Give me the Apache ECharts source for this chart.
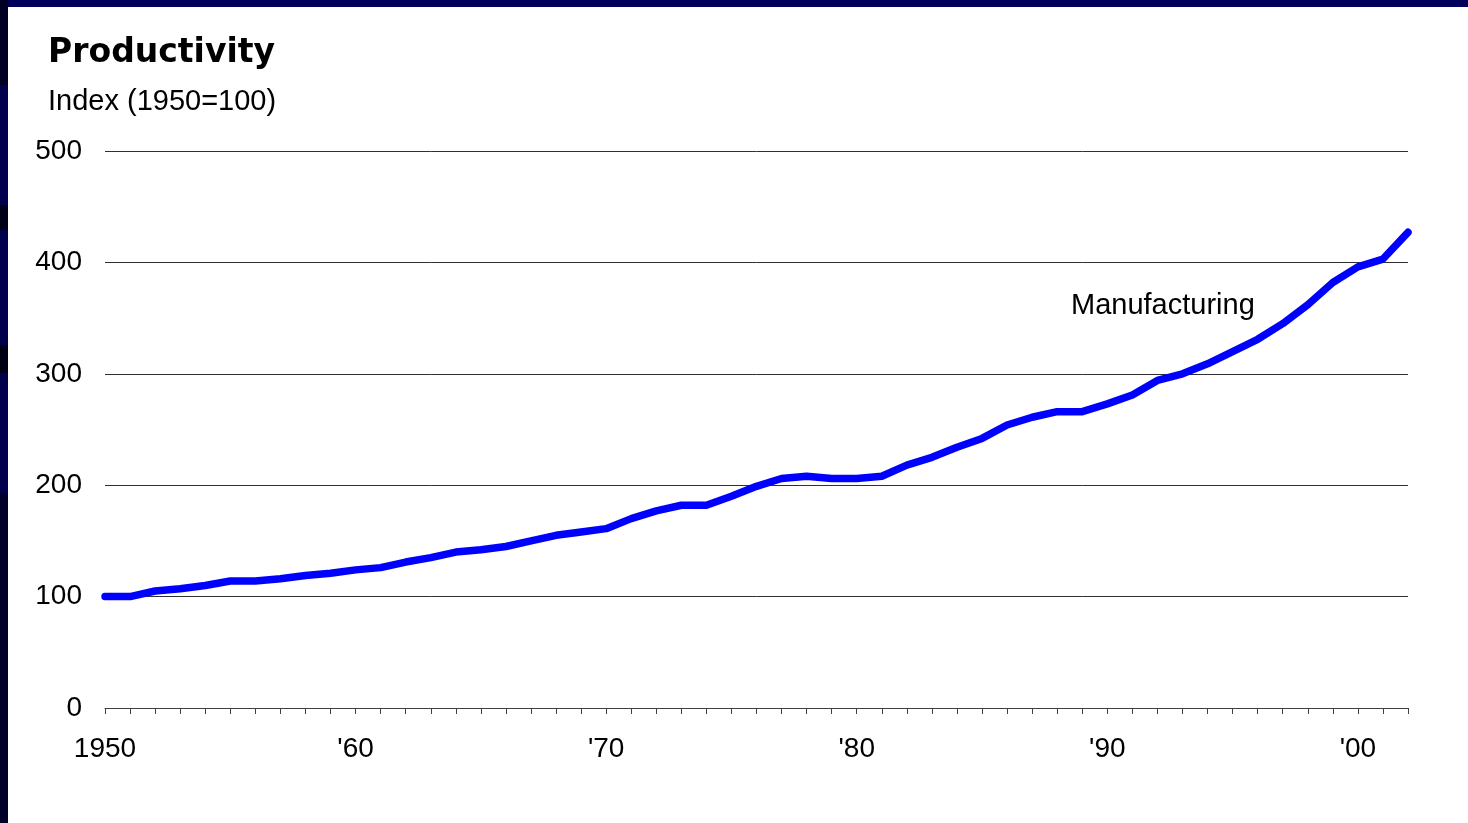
<!DOCTYPE html>
<html>
<head>
<meta charset="utf-8">
<script src="https://cdn.jsdelivr.net/npm/echarts@6/dist/echarts.min.js"></script>
<style>
html,body{margin:0;padding:0;background:#fff;}
#chart{width:1468px;height:823px;}
</style>
</head>
<body>
<div id="chart"></div>
<script>
const years = [];
for (let y = 1950; y <= 2002; y++) years.push(String(y));
const manufacturing = [
  100, 100, 105, 107, 110, 114, 114, 116, 119, 121,
  124, 126, 131, 135, 140, 142, 145, 150, 155, 158,
  161, 170, 177, 182, 182, 190, 199, 206, 208, 206,
  206, 208, 218, 225, 234, 242, 254, 261, 266, 266,
  273, 281, 294, 300, 309, 320, 331, 345, 362, 382,
  396, 403, 427
];
const xTickLabels = { '1950': '1950', '1960': "'60", '1970': "'70", '1980': "'80", '1990': "'90", '2000': "'00" };
const yTicks = [0, 100, 200, 300, 400, 500];
const titleText = 'Productivity';
const unitText = 'Index (1950=100)';
const seriesName = 'Manufacturing';

const chart = echarts.init(document.getElementById('chart'), null, { renderer: 'canvas' });
const font = '"Liberation Sans", Arial, sans-serif';

chart.setOption({
  backgroundColor: '#ffffff',
  animation: false,
  grid: { left: 105, right: 60, top: 151, bottom: 115, containLabel: false },
  xAxis: {
    type: 'category',
    data: years,
    boundaryGap: false,
    axisLine: { show: true, lineStyle: { color: '#404040', width: 1 } },
    axisTick: { show: true, inside: false, length: 6, interval: 0, lineStyle: { color: '#404040', width: 1 } },
    axisLabel: {
      interval: 0,
      margin: 27,
      fontFamily: font,
      fontSize: 28,
      color: '#000',
      formatter: function (v) { return xTickLabels[v] || ''; }
    },
    splitLine: { show: false }
  },
  yAxis: {
    type: 'value',
    min: yTicks[0],
    max: yTicks[yTicks.length - 1],
    interval: 100,
    axisLine: { show: false },
    axisTick: { show: false },
    axisLabel: { margin: 23, fontFamily: font, fontSize: 28, color: '#000' },
    splitLine: { show: true, lineStyle: { color: '#303030', width: 1 } }
  },
  series: [{
    name: seriesName,
    type: 'line',
    data: manufacturing,
    showSymbol: false,
    symbol: 'none',
    lineStyle: { color: '#0000ff', width: 7.5, cap: 'round', join: 'round' },
    z: 5
  }],
  graphic: [
    { type: 'rect', shape: { x: 0, y: 0, width: 1468, height: 7 }, style: { fill: '#00005a' }, z: 100 },
    { type: 'rect', shape: { x: 0, y: 0, width: 8, height: 85 }, style: { fill: '#000022' }, z: 101 },
    { type: 'rect', shape: { x: 0, y: 85, width: 8, height: 120 }, style: { fill: '#00004d' }, z: 101 },
    { type: 'rect', shape: { x: 0, y: 205, width: 8, height: 25 }, style: { fill: '#000018' }, z: 101 },
    { type: 'rect', shape: { x: 0, y: 230, width: 8, height: 115 }, style: { fill: '#00004d' }, z: 101 },
    { type: 'rect', shape: { x: 0, y: 345, width: 8, height: 28 }, style: { fill: '#000015' }, z: 101 },
    { type: 'rect', shape: { x: 0, y: 373, width: 8, height: 120 }, style: { fill: '#00004d' }, z: 101 },
    { type: 'rect', shape: { x: 0, y: 493, width: 8, height: 330 }, style: { fill: '#00002a' }, z: 101 },
    { type: 'text', left: 48, top: 37, style: { text: titleText, font: 'bold 33px "DejaVu Sans", sans-serif', fill: '#000' }, z: 50 },
    { type: 'text', left: 48, top: 87, style: { text: unitText, font: '29px "Liberation Sans", Arial, sans-serif', fill: '#000' }, z: 50 },
    { type: 'text', left: 1071, top: 291, style: { text: seriesName, font: '29px "Liberation Sans", Arial, sans-serif', fill: '#000' }, z: 50 }
  ]
});
</script>
</body>
</html>
